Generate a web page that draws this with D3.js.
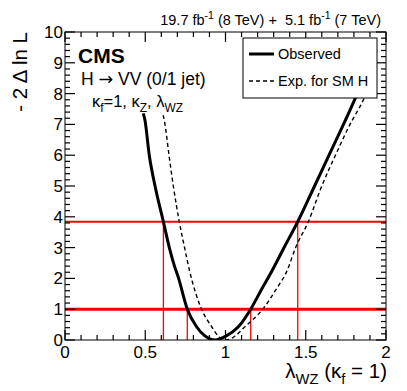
<!DOCTYPE html>
<html>
<head>
<meta charset="utf-8">
<script src="https://cdn.jsdelivr.net/npm/d3@7"></script>
<style>
  body { margin: 0; background: #fff; }
  svg { display: block; font-family: "Liberation Sans", Arial, Helvetica, sans-serif; }
</style>
</head>
<body>
<svg id="chart"></svg>
<script>
// scan values: [lambda_WZ, -2 dlnL]
const observed = [
  [0.488, 7.36], [0.498, 7.14], [0.525, 6.0], [0.561, 5.0], [0.613, 3.84],
  [0.65, 3.0], [0.685, 2.35], [0.705, 2.05], [0.762, 1.0], [0.82, 0.43],
  [0.87, 0.14], [0.935, 0.0], [1.0, 0.12], [1.08, 0.43], [1.157, 1.0],
  [1.22, 1.6], [1.29, 2.25], [1.37, 3.05], [1.45, 3.84], [1.555, 5.0],
  [1.645, 6.0], [1.735, 7.0], [1.80, 7.75], [1.87, 8.6], [1.94, 9.4]
];
const expected = [
  [0.612, 7.3], [0.623, 7.0], [0.648, 6.0], [0.675, 5.0], [0.712, 3.84],
  [0.745, 3.0], [0.775, 2.27], [0.851, 1.0], [0.914, 0.43], [0.96, 0.1],
  [1.007, 0.0], [1.06, 0.13], [1.121, 0.43], [1.232, 1.0], [1.31, 1.6],
  [1.385, 2.27], [1.437, 3.0], [1.516, 3.84], [1.6, 5.0], [1.685, 6.0],
  [1.79, 7.14], [1.84, 7.6], [1.92, 8.5]
];
const clLevels = [1, 3.84];
const cross68 = [0.762, 1.157];
const cross95 = [0.613, 1.45];

const xMajor = [0, 0.5, 1, 1.5, 2];
const xMinor = [0, 0.1, 0.2, 0.3, 0.4, 0.5, 0.6, 0.7, 0.8, 0.9, 1,
                1.1, 1.2, 1.3, 1.4, 1.5, 1.6, 1.7, 1.8, 1.9, 2];
const yMajor = [0, 1, 2, 3, 4, 5, 6, 7, 8, 9, 10];
const yMinor = d3.range(0, 51).map(i => i / 5);
const xTickLabels = ["0", "0.5", "1", "1.5", "2"];
const yTickLabels = ["0", "1", "2", "3", "4", "5", "6", "7", "8", "9", "10"];

const W = 407, H = 391;
const svg = d3.select("#chart").attr("width", W).attr("height", H);

const x = d3.scaleLinear().domain([0, 2]).range([65, 386]);
const y = d3.scaleLinear().domain([0, 10]).range([340, 32]);

// helper: text with sub/superscripts
function rich(sel, parts, size) {
  let off = 0;
  parts.forEach(p => {
    const t = sel.append("tspan").text(p.t);
    let target = 0;
    if (p.sub) target = size * 0.3;
    if (p.sup) target = -size * 0.4;
    if (target !== off) { t.attr("dy", target - off); off = target; }
    if (p.sub || p.sup) t.attr("font-size", size * 0.72);
    if (p.font) t.attr("font-family", p.font);
  });
}

svg.append("defs").append("clipPath").attr("id", "plotclip")
  .append("rect").attr("x", x(0)).attr("y", y(10))
  .attr("width", x(2) - x(0)).attr("height", y(0) - y(10));

// red confidence level lines
const red = svg.append("g").attr("clip-path", "url(#plotclip)");
red.append("g").selectAll("line").data(clLevels).join("line")
  .attr("x1", x(0)).attr("x2", x(2))
  .attr("y1", d => y(d)).attr("y2", d => y(d))
  .attr("stroke", "#ff0000")
  .attr("stroke-width", (d, i) => i === 0 ? 3 : 1.8);
red.append("g").selectAll("line").data(cross68).join("line")
  .attr("x1", d => x(d)).attr("x2", d => x(d))
  .attr("y1", y(0)).attr("y2", y(clLevels[0]))
  .attr("stroke", "#ff0000").attr("stroke-width", 1.3);
red.append("g").selectAll("line").data(cross95).join("line")
  .attr("x1", d => x(d)).attr("x2", d => x(d))
  .attr("y1", y(0)).attr("y2", y(clLevels[1]))
  .attr("stroke", "#ff0000").attr("stroke-width", 1.3);

// curves
const line = d3.line().x(d => x(d[0])).y(d => y(d[1])).curve(d3.curveMonotoneX);
const curves = svg.append("g").attr("clip-path", "url(#plotclip)");
curves.append("path").datum(expected).attr("d", line)
  .attr("fill", "none").attr("stroke", "#000").attr("stroke-width", 1.4)
  .attr("stroke-dasharray", "4,3");
curves.append("path").datum(observed).attr("d", line)
  .attr("fill", "none").attr("stroke", "#000").attr("stroke-width", 3);

// tick labels
svg.append("g").selectAll("text").data(xMajor).join("text")
  .attr("x", d => x(d)).attr("y", 358).attr("text-anchor", "middle")
  .attr("font-size", 17).text((d, i) => xTickLabels[i]);
svg.append("g").selectAll("text").data(yMajor).join("text")
  .attr("x", 63).attr("y", d => y(d) + 6).attr("text-anchor", "end")
  .attr("font-size", 17).text((d, i) => yTickLabels[i]);

// frame
svg.append("rect").attr("x", x(0)).attr("y", y(10))
  .attr("width", x(2) - x(0)).attr("height", y(0) - y(10))
  .attr("fill", "none").attr("stroke", "#000").attr("stroke-width", 1);

// ticks inside on all four sides, as thin filled rects
const majLen = 10, minLen = 5;
const tickLen = i => (i % 5 === 0 ? majLen : minLen);
const tickG = svg.append("g").attr("fill", "#000");
tickG.append("g").selectAll("rect").data(xMinor).join("rect")
  .attr("x", d => x(d) - 0.6).attr("width", 1.2)
  .attr("y", (d, i) => y(0) - tickLen(i)).attr("height", (d, i) => tickLen(i));
tickG.append("g").selectAll("rect").data(xMinor).join("rect")
  .attr("x", d => x(d) - 0.6).attr("width", 1.2)
  .attr("y", y(10)).attr("height", (d, i) => tickLen(i));
tickG.append("g").selectAll("rect").data(yMinor).join("rect")
  .attr("y", d => y(d) - 0.6).attr("height", 1.2)
  .attr("x", x(0)).attr("width", (d, i) => tickLen(i));
tickG.append("g").selectAll("rect").data(yMinor).join("rect")
  .attr("y", d => y(d) - 0.6).attr("height", 1.2)
  .attr("x", (d, i) => x(2) - tickLen(i)).attr("width", (d, i) => tickLen(i));

// legend
const leg = svg.append("g");
leg.append("rect").attr("x", 243).attr("y", 38).attr("width", 134).attr("height", 60)
  .attr("fill", "#fff").attr("stroke", "#000").attr("stroke-width", 1);
leg.append("line").attr("x1", 249).attr("x2", 274).attr("y1", 54).attr("y2", 54)
  .attr("stroke", "#000").attr("stroke-width", 3);
leg.append("line").attr("x1", 249).attr("x2", 274).attr("y1", 81).attr("y2", 81)
  .attr("stroke", "#000").attr("stroke-width", 1.4).attr("stroke-dasharray", "4,3");
leg.append("text").attr("x", 278).attr("y", 59).attr("font-size", 14.5).text("Observed");
leg.append("text").attr("x", 278).attr("y", 86).attr("font-size", 14.5).text("Exp. for SM H");

// labels
svg.append("text").attr("x", 78).attr("y", 63).attr("font-size", 21)
  .attr("font-weight", "bold").text("CMS");
rich(svg.append("text").attr("x", 81).attr("y", 85).attr("font-size", 17.5),
  [{t: "H "}, {t: "\u2192", font: "DejaVu Sans"}, {t: " VV (0/1 jet)"}], 17.5);
rich(svg.append("text").attr("x", 92).attr("y", 107).attr("font-size", 16.5),
  [{t: "\u03BA"}, {t: "f", sub: true}, {t: "=1, \u03BA"}, {t: "Z", sub: true},
   {t: ", \u03BB"}, {t: "WZ", sub: true}], 16.5);

rich(svg.append("text").attr("x", 381).attr("y", 25).attr("font-size", 14.5)
  .attr("text-anchor", "end"),
  [{t: "19.7 fb"}, {t: "-1", sup: true}, {t: " (8 TeV) +\u00a0 5.1 fb"}, {t: "-1", sup: true},
   {t: " (7 TeV)"}], 14.5);

rich(svg.append("text").attr("x", 387).attr("y", 378).attr("font-size", 20.5)
  .attr("text-anchor", "end"),
  [{t: "\u03BB"}, {t: "WZ", sub: true}, {t: " (\u03BA"}, {t: "f", sub: true}, {t: " = 1)"}], 20.5);

svg.append("text").attr("transform", "translate(27,32) rotate(-90)")
  .attr("text-anchor", "end").attr("font-size", 20.5)
  .text("- 2 \u0394 ln L");
</script>
</body>
</html>
